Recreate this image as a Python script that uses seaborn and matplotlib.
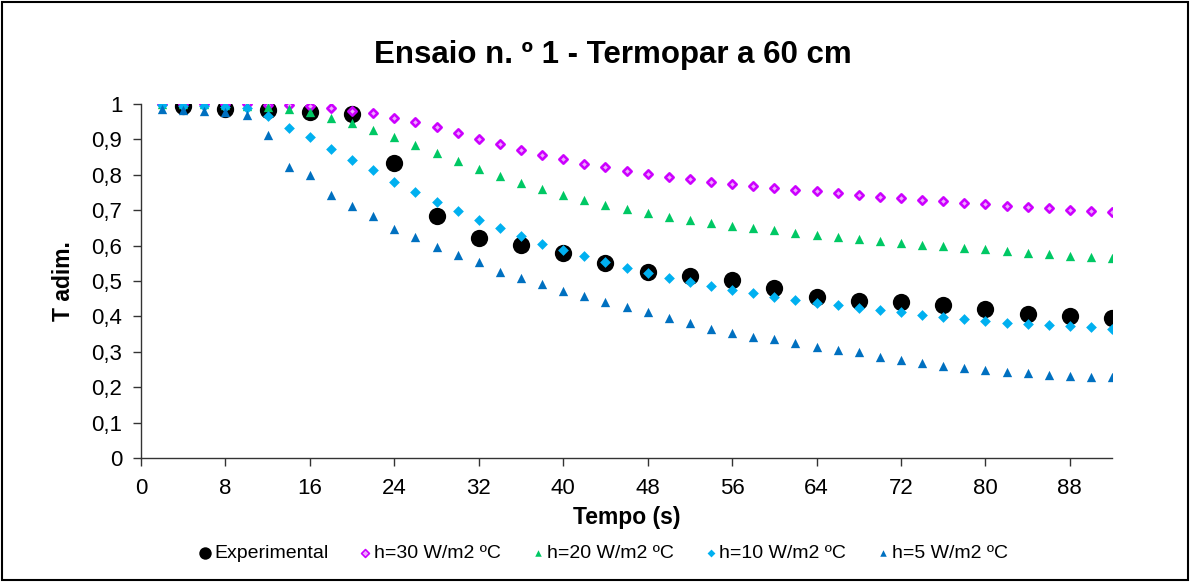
import matplotlib
matplotlib.use("Agg")
import matplotlib.pyplot as plt
import seaborn as sns
import numpy as np
import pandas as pd
from matplotlib.patches import Rectangle

sns.set_theme(style="white")
plt.rcParams['font.family'] = ['Liberation Sans', 'DejaVu Sans']
plt.rcParams['text.color'] = 'black'
plt.rcParams['axes.labelcolor'] = 'black'
plt.rcParams['xtick.color'] = 'black'
plt.rcParams['ytick.color'] = 'black'

title = "Ensaio n. º 1 - Termopar a 60 cm"
xlabel = "Tempo (s)"
ylabel = "T adim."

t_exp = [4, 8, 12, 16, 20, 24, 28, 32, 36, 40, 44, 48, 52, 56, 60, 64, 68, 72, 76, 80, 84, 88, 92]
exp_vals = [0.993, 0.987, 0.984, 0.978, 0.971, 0.832, 0.684, 0.622, 0.603, 0.578, 0.552, 0.526,
            0.514, 0.503, 0.479, 0.456, 0.444, 0.440, 0.432, 0.420, 0.407, 0.401, 0.396]

t_mod = list(range(2, 93, 2))
h30 = [1.0, 1.0, 1.0, 1.0, 0.999, 0.998, 0.997, 0.994, 0.99, 0.981, 0.974, 0.961, 0.948,
       0.934, 0.918, 0.902, 0.886, 0.871, 0.857, 0.844, 0.831, 0.821, 0.811, 0.802, 0.794,
       0.787, 0.781, 0.774, 0.768, 0.763, 0.758, 0.753, 0.748, 0.743, 0.738, 0.734, 0.730,
       0.726, 0.721, 0.718, 0.713, 0.709, 0.705, 0.701, 0.698, 0.694]
h20 = [1.0, 1.0, 0.999, 0.996, 0.994, 0.992, 0.985, 0.977, 0.961, 0.945, 0.927, 0.906, 0.884,
       0.862, 0.839, 0.817, 0.797, 0.777, 0.759, 0.742, 0.728, 0.714, 0.702, 0.691, 0.681,
       0.671, 0.663, 0.655, 0.650, 0.643, 0.635, 0.629, 0.624, 0.618, 0.612, 0.607, 0.603,
       0.598, 0.594, 0.589, 0.585, 0.580, 0.576, 0.572, 0.569, 0.566]
h10 = [0.997, 0.994, 0.994, 0.992, 0.988, 0.966, 0.931, 0.908, 0.873, 0.843, 0.813, 0.781, 0.752,
       0.724, 0.698, 0.672, 0.649, 0.627, 0.605, 0.587, 0.570, 0.553, 0.538, 0.523, 0.509,
       0.498, 0.486, 0.475, 0.465, 0.456, 0.447, 0.439, 0.431, 0.425, 0.417, 0.411, 0.404,
       0.398, 0.392, 0.387, 0.382, 0.379, 0.375, 0.372, 0.369, 0.365]
h5 = [0.986, 0.983, 0.981, 0.977, 0.969, 0.912, 0.821, 0.800, 0.742, 0.712, 0.684, 0.648, 0.625,
      0.597, 0.573, 0.553, 0.526, 0.508, 0.491, 0.473, 0.458, 0.440, 0.427, 0.412, 0.395,
      0.382, 0.365, 0.353, 0.343, 0.336, 0.326, 0.314, 0.305, 0.298, 0.285, 0.278, 0.269,
      0.260, 0.255, 0.249, 0.244, 0.240, 0.235, 0.232, 0.230, 0.228]

labels = ["Experimental", "h=30 W/m2 ºC", "h=20 W/m2 ºC", "h=10 W/m2 ºC", "h=5 W/m2 ºC"]
x_ticks = [0, 8, 16, 24, 32, 40, 48, 56, 64, 72, 80, 88]
y_ticks = [0, 0.1, 0.2, 0.3, 0.4, 0.5, 0.6, 0.7, 0.8, 0.9, 1.0]

fig = plt.figure(figsize=(11.9, 5.82), dpi=100)
ax = fig.add_axes([0.1185, 0.2131, 0.816, 0.6082])

df_exp = pd.DataFrame({"t": t_exp, "v": exp_vals})
sns.scatterplot(data=df_exp, x="t", y="v", ax=ax, marker="o", s=155, color="black",
                edgecolor="black", linewidth=0, label=labels[0], zorder=2)

series = [(h30, "#CC00FF", "D", 18, labels[1]),
          (h20, "#00C864", "^", 45, labels[2]),
          (h10, "#00B0F0", "D", 30, labels[3]),
          (h5, "#0070C0", "^", 45, labels[4])]
for i, (vals, col, mk, sz, lab) in enumerate(series):
    d = pd.DataFrame({"t": t_mod, "v": vals})
    if i == 0:
        sns.scatterplot(data=d, x="t", y="v", ax=ax, marker=mk, s=sz, facecolor="#EFA8FF",
                        edgecolor=col, linewidth=1.9, label=lab, zorder=3 + i)
    else:
        sns.scatterplot(data=d, x="t", y="v", ax=ax, marker=mk, s=sz, color=col,
                        edgecolor=col, linewidth=0, label=lab, zorder=3 + i)

ax.set_xlim(0, 92)
ax.set_ylim(0, 1)
ax.set_xticks(x_ticks)
ax.set_yticks(y_ticks)
ax.set_xticklabels([str(v) for v in x_ticks], fontsize=16)
ax.set_yticklabels([("%g" % v).replace(".", ",") for v in y_ticks], fontsize=16)
ax.tick_params(axis="both", direction="out", length=5.5, width=1, color="#333333",
               labelcolor="black", bottom=True, left=True)
ax.tick_params(axis="x", pad=9)
ax.tick_params(axis="y", pad=8)
for side in ["top", "right"]:
    ax.spines[side].set_visible(False)
for side in ["left", "bottom"]:
    ax.spines[side].set_color("#333333")
    ax.spines[side].set_linewidth(1.0)

ax.set_xlabel(xlabel, fontsize=16.5, fontweight="bold", labelpad=5, color="black")
ax.set_ylabel(ylabel, fontsize=16.5, fontweight="bold", labelpad=12, color="black")
fig.text(0.515, 0.905, title, ha="center", va="center", fontsize=22.5, fontweight="bold",
         color="black")

leg = ax.legend(loc="center", bbox_to_anchor=(0.477, -0.268), ncol=5, frameon=False,
                fontsize=14, handletextpad=0.2, handlelength=0.5, columnspacing=1.65,
                borderaxespad=0)
for txt in leg.get_texts():
    txt.set_color("black")
hsizes = [80, 16, 22, 16, 22]
for h, s in zip(leg.legend_handles, hsizes):
    h.set_sizes([s])
leg.legend_handles[1].set_linewidths([1.2])

fig.add_artist(Rectangle((0.002, 0.003), 0.996, 0.994, transform=fig.transFigure,
                         fill=False, edgecolor="black", linewidth=1.5))

fig.savefig("out.png", dpi=100)
